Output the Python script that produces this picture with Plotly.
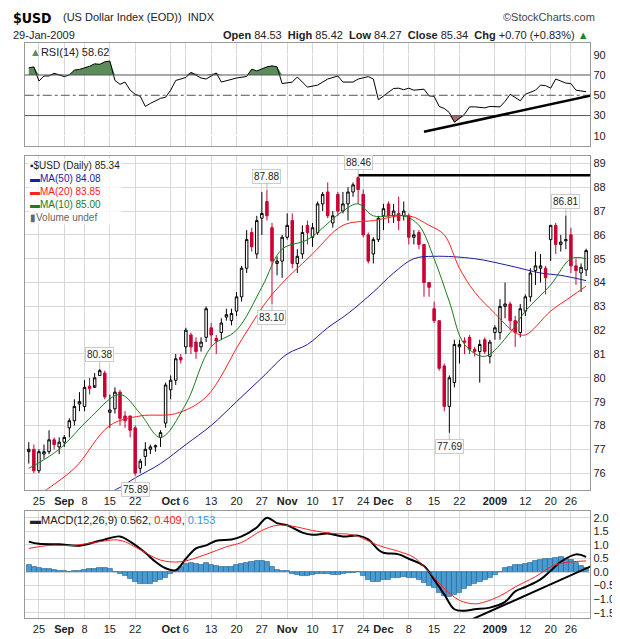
import pandas as pd
import plotly.graph_objects as go

# trading days 21-Aug-2008 .. 29-Jan-2009 (US holidays removed)
holidays = ["2008-09-01", "2008-11-27", "2008-12-25", "2009-01-01", "2009-01-19"]
dates = [d for d in pd.bdate_range("2008-08-21", "2009-01-29") if d.strftime("%Y-%m-%d") not in holidays]
n = len(dates)
idx = list(range(n))

opens = [76.9, 77.0, 76.1, 76.8, 76.9, 77.4, 77.1, 77.3, 77.9, 78.2, 78.9, 78.8, 79.65, 79.6, 80.1, 80.2,
         78.55, 78.7, 79.4, 78.4, 78.4, 77.9, 76.2, 76.7, 77.0, 77.1, 77.5, 78.1, 79.5, 79.9, 80.85,
         81.3, 81.8, 81.5, 81.3, 81.7, 82.1, 81.65, 81.9, 82.55, 82.4, 82.8, 83.4, 84.6, 86.1, 85.2,
         86.7, 87.4, 86.3, 84.8, 84.9, 85.9, 86.6, 84.8, 85.2, 86.4, 85.9, 86.1, 87.3, 87.8, 86.5,
         87.7, 87.0, 87.3, 87.8, 88.4, 87.7, 86.0, 85.2, 85.8, 86.8, 87.3, 86.8, 86.9, 86.8, 86.8,
         85.9, 86.1, 85.6, 84.0, 82.9, 82.4, 80.5, 78.8, 79.8, 81.3, 81.55, 81.7, 81.2, 81.1, 81.6,
         80.9, 81.9, 81.9, 83.0, 83.1, 82.4, 81.9, 82.8, 83.4, 84.5, 84.6, 84.6, 85.8, 86.4, 85.6,
         85.75, 86.0, 84.7, 84.4, 84.53]
closes = [77.0, 76.1, 76.9, 76.9, 77.4, 77.2, 77.3, 77.5, 78.2, 78.8, 79.0, 79.6, 79.55, 80.0, 80.3, 79.2,
          78.65, 79.4, 78.3, 78.2, 77.8, 76.0, 76.5, 77.0, 77.1, 77.15, 77.7, 79.7, 79.9, 80.8, 80.75,
          82.0, 81.3, 81.1, 81.5, 82.9, 81.8, 81.55, 82.3, 82.65, 82.7, 83.4, 84.6, 85.8, 85.5, 86.6,
          86.9, 86.8, 84.9, 84.9, 85.9, 86.4, 84.8, 85.1, 86.1, 86.1, 86.3, 87.3, 87.7, 86.8, 86.8,
          87.0, 87.3, 87.8, 88.1, 87.9, 86.0, 84.9, 85.8, 86.7, 87.1, 86.8, 87.0, 86.6, 87.0, 85.9,
          86.0, 85.6, 84.0, 83.8, 82.4, 80.4, 78.8, 80.0, 81.4, 81.4, 81.5, 81.2, 81.1, 81.4, 81.1,
          81.5, 82.1, 83.0, 83.1, 82.4, 81.9, 82.9, 83.4, 84.4, 84.7, 84.7, 84.2, 86.4, 85.6, 85.7,
          85.8, 84.7, 84.5, 84.64, 85.34]
highs = [77.3, 77.2, 77.0, 77.2, 77.8, 77.5, 77.5, 77.6, 78.3, 79.1, 79.4, 79.9, 80.0, 80.2, 80.38, 80.3,
         79.3, 79.6, 79.5, 78.6, 78.4, 78.0, 76.6, 77.3, 77.2, 77.2, 77.8, 79.8, 80.1, 81.0, 81.0,
         82.1, 81.9, 81.7, 81.7, 83.0, 82.3, 81.8, 82.5, 82.9, 82.9, 83.6, 84.7, 86.2, 86.3, 86.8,
         87.8, 87.88, 86.5, 85.1, 86.0, 86.9, 86.9, 85.4, 86.4, 86.6, 86.5, 87.4, 87.8, 88.2, 87.0,
         87.8, 87.8, 88.0, 88.2, 88.46, 87.9, 86.1, 85.9, 86.8, 87.3, 87.4, 87.3, 87.6, 87.4, 86.9,
         86.2, 86.2, 85.6, 84.0, 83.2, 82.4, 80.6, 80.1, 81.6, 81.6, 81.7, 81.8, 81.3, 81.6, 81.7,
         81.6, 82.2, 83.3, 84.0, 83.2, 82.6, 83.1, 83.5, 84.6, 85.3, 85.2, 84.7, 86.4, 86.5, 86.0,
         86.81, 86.3, 85.0, 84.8, 85.42]
lows = [76.4, 76.0, 76.0, 76.6, 76.8, 77.0, 76.8, 77.1, 77.5, 78.0, 78.6, 78.6, 79.3, 79.7, 80.1, 79.1,
        77.9, 78.5, 78.0, 77.9, 77.5, 75.89, 76.0, 76.3, 76.8, 76.9, 77.1, 77.9, 79.1, 79.7, 80.6,
        81.0, 81.0, 80.8, 81.1, 81.5, 81.3, 81.0, 81.6, 82.4, 82.2, 82.6, 83.2, 84.4, 85.3, 85.0,
        86.0, 86.6, 83.10, 84.3, 84.2, 85.8, 84.6, 84.4, 85.0, 85.6, 85.5, 86.0, 87.0, 86.7, 86.3,
        86.8, 86.9, 86.6, 87.6, 87.3, 85.9, 84.8, 84.8, 85.7, 86.2, 86.5, 86.5, 86.2, 86.6, 85.6,
        85.6, 85.4, 83.4, 83.4, 82.3, 80.3, 78.6, 77.69, 79.6, 80.6, 81.0, 81.0, 80.9, 79.8, 81.0,
        80.6, 81.6, 81.6, 82.5, 82.0, 81.3, 81.7, 82.6, 83.2, 83.9, 84.0, 83.5, 84.9, 85.2, 85.3,
        85.4, 84.4, 83.9, 83.6, 84.27]

# moving averages (day index, value)
ma10_i = [0, 6, 12, 18, 22, 26, 31, 36, 41, 46, 50, 55, 62, 65, 68, 74, 77, 80, 83, 86, 90, 95, 98, 103, 107, 110]
ma10_v = [76.2, 77.0, 78.3, 79.3, 78.5, 77.5, 78.9, 81.3, 82.0, 83.8, 85.4, 85.8, 87.0, 87.3, 86.8, 86.8,
          86.4, 85.0, 83.2, 81.4, 80.9, 81.9, 82.8, 83.9, 85.0, 85.0]
ma20_i = [2, 9, 16, 22, 29, 35, 42, 48, 56, 62, 68, 75, 79, 82, 85, 88, 92, 96, 98, 103, 107, 110]
ma20_v = [75.1, 76.2, 78.0, 78.4, 78.5, 79.2, 81.6, 83.5, 85.2, 86.4, 86.6, 86.8, 86.4, 86.0, 84.6, 83.6,
          82.7, 81.9, 81.8, 82.8, 83.4, 83.85]
ma50_i = [16, 18, 21, 26, 31, 36, 41, 46, 51, 55, 59, 63, 68, 72, 76, 80, 88, 95, 101, 105, 110]
ma50_v = [75.2, 75.4, 75.8, 76.4, 77.2, 78.0, 79.0, 80.0, 81.0, 81.4, 82.1, 82.7, 83.6, 84.4, 85.0, 85.1,
          85.0, 84.7, 84.4, 84.3, 84.08]

rsi_i = [0, 1, 2, 3, 4, 5, 7, 8, 9, 10, 12, 13, 14, 15, 16, 17, 18, 19, 20, 21, 22, 23, 24, 26, 27, 28, 29,
         30, 31, 32, 34, 35, 37, 38, 40, 41, 43, 44, 45, 47, 48, 49, 50, 52, 53, 55, 57, 58, 59, 61, 62, 64,
         65, 67, 68, 69, 71, 72, 73, 74, 75, 76, 78, 79, 80, 81, 82, 83, 84, 86, 87, 88, 90, 91, 93, 94, 95,
         96, 97, 98, 100, 101, 102, 103, 104, 106, 107, 108, 110]
rsi_v = [77, 78, 64, 69, 69, 71.6, 68.4, 70, 74.8, 75.5, 78.6, 81, 80.5, 83, 83.7, 64.6, 60.8, 63, 55, 51,
         49, 39, 42, 47, 48, 55, 64.6, 66, 67.5, 72.6, 67, 66, 72, 63, 66, 67, 68.5, 75.7, 74, 78, 79, 78,
         61.5, 63, 68, 58, 60, 63, 66, 69, 63, 63, 66, 68.4, 66, 45.6, 53, 56.7, 57, 55.5, 57, 55, 56, 49.4,
         49, 39, 37, 33, 23.4, 31.3, 38.6, 38.6, 37.6, 39, 38.6, 44, 51, 48, 44.6, 51, 55, 60, 59.5, 57,
         66, 62, 61.5, 55, 53.5, 58.62]

macd_i = [0, 2, 6, 10, 14, 18, 20, 23, 25, 27, 29, 31, 33, 35, 37, 40, 42, 45, 47, 49, 51, 54, 56, 59, 62,
          65, 67, 69, 70, 73, 75, 78, 80, 82, 84, 86, 88, 91, 94, 96, 98, 101, 103, 105, 108, 110]
macd_v = [1.12, 1.04, 1.02, 0.97, 1.15, 1.31, 1.12, 0.71, 0.38, 0.14, 0.07, 0.49, 0.87, 0.98, 1.15, 1.2,
          1.31, 1.64, 2.0, 1.8, 1.72, 1.45, 1.37, 1.42, 1.31, 1.34, 1.2, 0.82, 0.71, 0.65, 0.49, 0.22,
          -0.28, -0.82, -1.37, -1.42, -1.37, -1.31, -1.1, -0.71, -0.55, -0.27, 0.05, 0.38, 0.65, 0.56]
sig_i = [0, 4, 9, 13, 18, 22, 26, 30, 35, 39, 42, 46, 49, 52, 56, 60, 64, 69, 73, 76, 79, 82, 85, 88, 90, 93, 96,
         100, 104, 110]
sig_v = [0.87, 0.98, 0.98, 1.09, 1.17, 0.82, 0.44, 0.38, 0.65, 0.93, 1.09, 1.53, 1.72, 1.69, 1.53, 1.42,
         1.37, 0.98, 0.76, 0.54, 0.0, -0.6, -1.04, -1.17, -1.1, -0.88, -0.55, -0.17, 0.27, 0.409]
hist = [0.25, 0.2, 0.15, 0.12, 0.1, 0.08, 0.06, 0.04, 0.02, 0.03, 0.05, 0.08, 0.1, 0.12, 0.15, 0.15,
        0.1, 0.0, -0.08, -0.15, -0.25, -0.38, -0.45, -0.45, -0.42, -0.38, -0.3, -0.2, -0.08, 0.05, 0.2,
        0.3, 0.32, 0.3, 0.28, 0.32, 0.25, 0.22, 0.2, 0.18, 0.2, 0.25, 0.3, 0.35, 0.38, 0.4,
        0.42, 0.38, 0.2, 0.08, 0.05, 0.05, -0.05, -0.12, -0.15, -0.15, -0.12, -0.08, -0.05, -0.08, -0.1,
        -0.1, -0.06, -0.04, -0.02, 0.0, -0.15, -0.3, -0.38, -0.35, -0.3, -0.28, -0.22, -0.2, -0.18,
        -0.2, -0.22, -0.28, -0.4, -0.5, -0.6, -0.75, -0.88, -0.9, -0.85, -0.75, -0.62, -0.5, -0.42,
        -0.35, -0.28, -0.2, -0.1, 0.02, 0.15, 0.2, 0.25, 0.28, 0.3, 0.35, 0.42, 0.45, 0.48,
        0.5, 0.52, 0.55, 0.5, 0.45, 0.35, 0.22, 0.153]

peak_i = [14, 21, 47, 48, 65, 83, 106]
peak_txt = ["80.38", "75.89", "87.88", "83.10", "88.46", "77.69", "86.81"]
peak_up = [True, False, True, False, True, False, True]

tick_dates = ["2008-08-25", "2008-09-02", "2008-09-08", "2008-09-15", "2008-09-22", "2008-10-01", "2008-10-06",
              "2008-10-13", "2008-10-20", "2008-10-27", "2008-11-03", "2008-11-10", "2008-11-17", "2008-11-24",
              "2008-12-01", "2008-12-08", "2008-12-15", "2008-12-22", "2009-01-02", "2009-01-12", "2009-01-20",
              "2009-01-26"]
tick_text = ["25", "<b>Sep</b>", "8", "15", "22", "<b>Oct</b>", "6", "13", "20", "27", "<b>Nov</b>", "10", "17",
             "24", "<b>Dec</b>", "8", "15", "22", "<b>2009</b>", "12", "20", "26"]
date_str = [d.strftime("%Y-%m-%d") for d in dates]
tick_pos = [date_str.index(t) for t in tick_dates]

FONT = "Liberation Sans"
GRID = "#d8d8d8"
XD = [0.027, 0.939]

fig = go.Figure()

# RSI panel
fig.add_trace(go.Scatter(x=rsi_i, y=[70] * len(rsi_i), mode="lines", line=dict(width=0), xaxis="x", yaxis="y",
                         showlegend=False, hoverinfo="skip"))
fig.add_trace(go.Scatter(x=rsi_i, y=[max(v, 70) for v in rsi_v], mode="lines", line=dict(width=0),
                         fill="tonexty", fillcolor="#5b8c5a", xaxis="x", yaxis="y", showlegend=False))
fig.add_trace(go.Scatter(x=rsi_i, y=[30] * len(rsi_i), mode="lines", line=dict(width=0), xaxis="x", yaxis="y",
                         showlegend=False, hoverinfo="skip"))
fig.add_trace(go.Scatter(x=rsi_i, y=[min(v, 30) for v in rsi_v], mode="lines", line=dict(width=0),
                         fill="tonexty", fillcolor="#a56b6b", xaxis="x", yaxis="y", showlegend=False))
fig.add_trace(go.Scatter(x=rsi_i, y=rsi_v, mode="lines", line=dict(color="black", width=1),
                         xaxis="x", yaxis="y", showlegend=False))

# price panel
fig.add_trace(go.Candlestick(x=idx, open=opens, high=highs, low=lows, close=closes, xaxis="x2", yaxis="y2",
                             increasing=dict(line=dict(color="black", width=1), fillcolor="white"),
                             decreasing=dict(line=dict(color="#cc0033", width=1), fillcolor="#cc0033"),
                             whiskerwidth=0, showlegend=False))
for xi, yv, c in [(ma50_i, ma50_v, "#1c1ca0"), (ma20_i, ma20_v, "#ff2020"), (ma10_i, ma10_v, "#1e7a1e")]:
    fig.add_trace(go.Scatter(x=xi, y=yv, mode="lines", line=dict(color=c, width=1, shape="spline"),
                             xaxis="x2", yaxis="y2", showlegend=False))

# MACD panel
fig.add_trace(go.Bar(x=idx, y=hist, marker=dict(color="#4a9bd1", line=dict(color="#1f5f8f", width=0.6)),
                     width=1.0, xaxis="x3", yaxis="y3", showlegend=False))
fig.add_trace(go.Scatter(x=macd_i, y=macd_v, mode="lines", line=dict(color="black", width=2, shape="spline"),
                         xaxis="x3", yaxis="y3", showlegend=False))
fig.add_trace(go.Scatter(x=sig_i, y=sig_v, mode="lines", line=dict(color="#ff2020", width=1, shape="spline"),
                         xaxis="x3", yaxis="y3", showlegend=False))

xr = [-0.8, n - 0.2]
xcommon = dict(range=xr, tickvals=tick_pos, ticktext=tick_text, showgrid=True, gridcolor=GRID, zeroline=False,
               showline=True, linecolor="#999", mirror=True, ticks="", tickfont=dict(size=11, color="#222"),
               domain=XD, ticklabelstandoff=1)
ycommon = dict(side="right", showgrid=True, gridcolor=GRID, zeroline=False, showline=True, linecolor="#999",
               mirror=True, ticks="", tickfont=dict(size=11, color="#222"))

fig.update_layout(
    width=620, height=639, margin=dict(l=0, r=0, t=0, b=0), plot_bgcolor="white", paper_bgcolor="white",
    font=dict(family=FONT, size=11, color="#222"), bargap=0,
    xaxis=dict(xcommon, showticklabels=False, anchor="y"),
    xaxis2=dict(xcommon, anchor="y2", matches="x", rangeslider=dict(visible=False)),
    xaxis3=dict(xcommon, anchor="y3", matches="x"),
    yaxis=dict(ycommon, domain=[0.784, 0.946], range=[0, 102], tickvals=[10, 30, 50, 70, 90], anchor="x",
               gridcolor="white"),
    yaxis2=dict(ycommon, domain=[0.246, 0.768], range=[75.3, 89.3], dtick=1, anchor="x2"),
    yaxis3=dict(ycommon, domain=[0.045, 0.213], range=[-1.7, 2.25], dtick=0.5, tickformat=".1f", anchor="x3"),
)

shapes = []
for lvl, dash in [(70, "solid"), (30, "solid"), (50, "dashdot")]:
    shapes.append(dict(type="line", xref="x domain", yref="y", x0=0, x1=1, y0=lvl, y1=lvl,
                       line=dict(color="#555", width=1, dash=dash)))
# resistance line at top and trend lines
shapes.append(dict(type="line", xref="x2", yref="y2", x0=65, x1=n + 7, y0=88.5, y1=88.5,
                   line=dict(color="black", width=2.5)))
shapes.append(dict(type="line", xref="x", yref="y", x0=78, x1=n + 3, y0=14, y1=53, line=dict(color="black", width=2.5)))
shapes.append(dict(type="line", xref="x3", yref="y3", x0=87, x1=n + 1, y0=-1.78, y1=0.3,
                   line=dict(color="black", width=2)))
fig.update_layout(shapes=shapes)

ann = []
for i, t, up in zip(peak_i, peak_txt, peak_up):
    y = highs[i] if up else lows[i]
    ann.append(dict(x=i, y=y, xref="x2", yref="y2", text=t, showarrow=True, arrowcolor="#bbb", arrowwidth=1,
                    arrowhead=0, ax=0, ay=-14 if up else 14, bgcolor="white", bordercolor="#ccc", borderwidth=1,
                    borderpad=1, font=dict(size=10, color="#222")))
ann += [
    dict(x=0.005, y=1.0, xref="paper", yref="paper", xanchor="left", yanchor="top", showarrow=False,
         text="<b>$USD</b>", font=dict(size=14, family="Liberation Sans Narrow, DejaVu Sans Condensed", color="black")),
    dict(x=0.085, y=0.998, xref="paper", yref="paper", xanchor="left", yanchor="top", showarrow=False,
         text="(US Dollar Index (EOD))  INDX", font=dict(size=11, color="#222")),
    dict(x=0.005, y=0.971, xref="paper", yref="paper", xanchor="left", yanchor="top", showarrow=False,
         text="29-Jan-2009", font=dict(size=11, color="#222")),
    dict(x=0.95, y=0.998, xref="paper", yref="paper", xanchor="right", yanchor="top", showarrow=False,
         text="©StockCharts.com", font=dict(size=11, color="#444")),
    dict(x=0.94, y=0.971, xref="paper", yref="paper", xanchor="right", yanchor="top", showarrow=False,
         text="<b>Open</b> 84.53  <b>High</b> 85.42  <b>Low</b> 84.27  <b>Close</b> 85.34  <b>Chg</b> +0.70 (+0.83%) "
              "<span style='color:#1a8a1a'>▲</span>", font=dict(size=11, color="#222")),
    dict(x=0.032, y=0.944, xref="paper", yref="paper", xanchor="left", yanchor="top", showarrow=False,
         text="<span style='color:#5b8c5a'>▲</span>RSI(14) 58.62", font=dict(size=11, color="#222")),
    dict(x=0.032, y=0.765, xref="paper", yref="paper", xanchor="left", yanchor="top", showarrow=False, align="left",
         text="<b>▪</b>$USD (Daily) 85.34<br><span style='color:#1c1ca0'>▬MA(50) 84.08</span><br>"
              "<span style='color:#ff2020'>▬MA(20) 83.85</span><br><span style='color:#1e7a1e'>▬MA(10) 85.00</span>"
              "<br><span style='color:#666'>▮Volume undef</span>",
         font=dict(size=10, color="#222"), bgcolor="rgba(255,255,255,0.8)"),
    dict(x=0.032, y=0.212, xref="paper", yref="paper", xanchor="left", yanchor="top", showarrow=False,
         text="<b>▬</b>MACD(12,26,9) 0.562, <span style='color:#ff2020'>0.409</span>, "
              "<span style='color:#3a9ad9'>0.153</span>", font=dict(size=11, color="#222")),
]
fig.update_layout(annotations=ann)

fig.write_html("out.html")
